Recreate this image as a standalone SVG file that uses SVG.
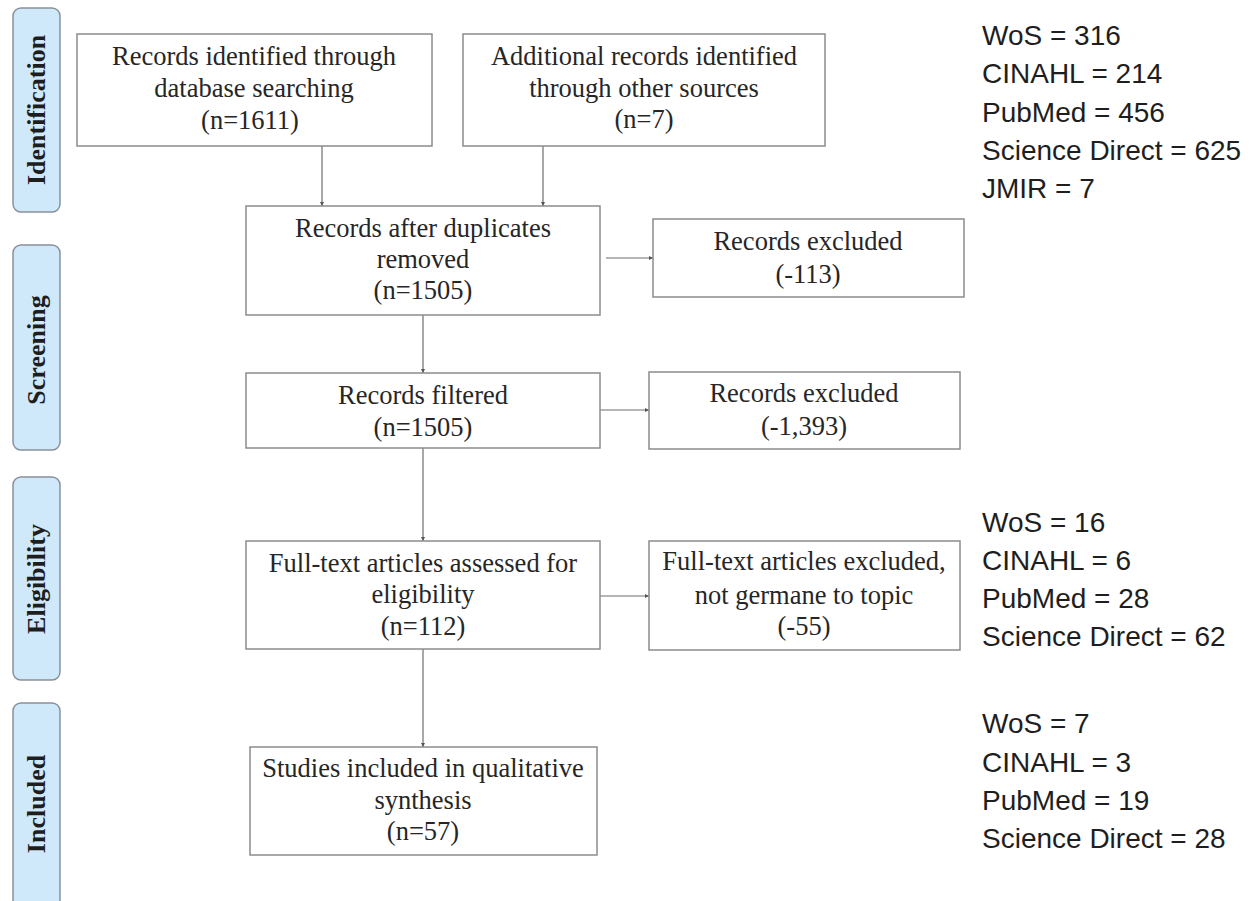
<svg xmlns="http://www.w3.org/2000/svg" width="1254" height="901" viewBox="0 0 1254 901">
<defs>
<style>
.phase{fill:#cfe9fa;stroke:#8a9099;stroke-width:1.5}
.ph{font-family:"Liberation Serif",serif;font-weight:bold;font-size:26px;fill:#1e1e1e;text-anchor:middle}
.box{fill:#fff;stroke:#8c8c8c;stroke-width:1.5}
.bt{font-family:"Liberation Serif",serif;font-size:26.5px;fill:#262626;text-anchor:middle}
.side{font-family:"Liberation Sans",sans-serif;font-size:28px;fill:#1e1e1e}
.conn{stroke:#6e6e6e;stroke-width:1.2;fill:none;marker-end:url(#ah)}
</style>
<marker id="ah" viewBox="0 0 6 6" refX="6" refY="3" markerWidth="4" markerHeight="4" orient="auto" markerUnits="userSpaceOnUse">
<path d="M0,0 L6,3 L0,6 z" fill="#555"/>
</marker>
</defs>
<rect width="1254" height="901" fill="#fff"/>

<g id="phase-identification">
<rect class="phase" x="13" y="8" width="47" height="204" rx="8"/>
<text class="ph" transform="translate(45,110) rotate(-90)">Identification</text>
</g>
<g id="phase-screening">
<rect class="phase" x="13" y="245" width="47" height="205" rx="8"/>
<text class="ph" transform="translate(45,350) rotate(-90)">Screening</text>
</g>
<g id="phase-eligibility">
<rect class="phase" x="13" y="477" width="47" height="203" rx="8"/>
<text class="ph" transform="translate(45,579) rotate(-90)">Eligibility</text>
</g>
<g id="phase-included">
<rect class="phase" x="13" y="703" width="47" height="210" rx="8"/>
<text class="ph" transform="translate(45,804) rotate(-90)">Included</text>
</g>

<g id="connectors">
<line class="conn" x1="322" y1="146" x2="322" y2="206"/>
<line class="conn" x1="543" y1="146" x2="543" y2="206"/>
<line class="conn" x1="606" y1="258" x2="653" y2="258"/>
<line class="conn" x1="423" y1="315" x2="423" y2="373"/>
<line class="conn" x1="600" y1="410" x2="649" y2="410"/>
<line class="conn" x1="423" y1="448" x2="423" y2="541"/>
<line class="conn" x1="600" y1="596" x2="649" y2="596"/>
<line class="conn" x1="423" y1="649" x2="423" y2="747"/>
</g>

<g id="n-db">
<rect class="box" x="77" y="34" width="355" height="112"/>
<text class="bt" x="254" y="65">Records identified through</text>
<text class="bt" x="254" y="97">database searching</text>
<text class="bt" x="250" y="129">(n=1611)</text>
</g>
<g id="n-other">
<rect class="box" x="463" y="34" width="362" height="112"/>
<text class="bt" x="644" y="65">Additional records identified</text>
<text class="bt" x="644" y="97">through other sources</text>
<text class="bt" x="644" y="128">(n=7)</text>
</g>
<g id="n-dedup">
<rect class="box" x="246" y="206" width="354" height="109"/>
<text class="bt" x="423" y="237">Records after duplicates</text>
<text class="bt" x="423" y="268">removed</text>
<text class="bt" x="423" y="299">(n=1505)</text>
</g>
<g id="n-excl1">
<rect class="box" x="653" y="219" width="311" height="78"/>
<text class="bt" x="808" y="250">Records excluded</text>
<text class="bt" x="808" y="283">(-113)</text>
</g>
<g id="n-filtered">
<rect class="box" x="246" y="373" width="354" height="75"/>
<text class="bt" x="423" y="404">Records filtered</text>
<text class="bt" x="423" y="436">(n=1505)</text>
</g>
<g id="n-excl2">
<rect class="box" x="649" y="372" width="311" height="77"/>
<text class="bt" x="804" y="402">Records excluded</text>
<text class="bt" x="804" y="435">(-1,393)</text>
</g>
<g id="n-fulltext">
<rect class="box" x="246" y="541" width="354" height="108"/>
<text class="bt" x="423" y="572">Full-text articles assessed for</text>
<text class="bt" x="423" y="603">eligibility</text>
<text class="bt" x="423" y="635">(n=112)</text>
</g>
<g id="n-excl3">
<rect class="box" x="649" y="541" width="311" height="109"/>
<text class="bt" x="804" y="570">Full-text articles excluded,</text>
<text class="bt" x="804" y="604">not germane to topic</text>
<text class="bt" x="804" y="635">(-55)</text>
</g>
<g id="n-included">
<rect class="box" x="250" y="747" width="347" height="108"/>
<text class="bt" x="423" y="777">Studies included in qualitative</text>
<text class="bt" x="423" y="809">synthesis</text>
<text class="bt" x="423" y="840">(n=57)</text>
</g>

<g id="side-identification">
<text class="side" x="982" y="45">WoS = 316</text>
<text class="side" x="982" y="83">CINAHL = 214</text>
<text class="side" x="982" y="122">PubMed = 456</text>
<text class="side" x="982" y="160">Science Direct = 625</text>
<text class="side" x="982" y="198">JMIR = 7</text>
</g>
<g id="side-eligibility">
<text class="side" x="982" y="532">WoS = 16</text>
<text class="side" x="982" y="570">CINAHL = 6</text>
<text class="side" x="982" y="608">PubMed = 28</text>
<text class="side" x="982" y="646">Science Direct = 62</text>
</g>
<g id="side-included">
<text class="side" x="982" y="733">WoS = 7</text>
<text class="side" x="982" y="772">CINAHL = 3</text>
<text class="side" x="982" y="810">PubMed = 19</text>
<text class="side" x="982" y="848">Science Direct = 28</text>
</g>
</svg>
